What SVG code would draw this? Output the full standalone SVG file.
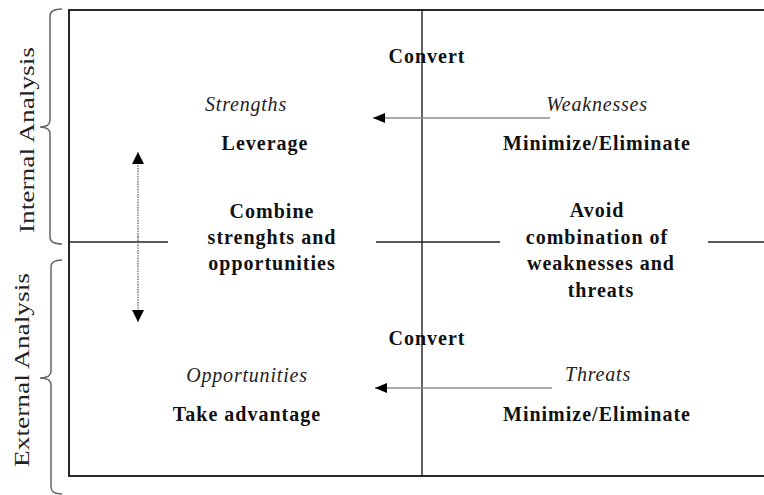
<svg xmlns="http://www.w3.org/2000/svg" width="764" height="495" viewBox="0 0 764 495">
  <style>
    .frame { fill: none; stroke: #111; stroke-width: 1.8; }
    .axis { fill: none; stroke: #222; stroke-width: 1.4; }
    .brace { fill: none; stroke: #666; stroke-width: 1.5; }
    .flow { fill: none; stroke: #8c8c8c; stroke-width: 1.6; }
    .dots { fill: none; stroke: #777; stroke-width: 1.6; stroke-dasharray: 1.4 1.2; }
    .bold { font-family: "Liberation Serif", "Times New Roman", serif; font-weight: bold; font-size: 20px; letter-spacing: 1px; fill: #111; text-anchor: middle; }
    .ital { font-family: "Liberation Serif", "Times New Roman", serif; font-style: italic; font-size: 20px; letter-spacing: 0.8px; fill: #222; text-anchor: middle; }
    .side { font-family: "Liberation Serif", "Times New Roman", serif; font-size: 22px; fill: #222; text-anchor: middle; }
  </style>
  <defs>
    <marker id="head" viewBox="0 0 12 10" refX="12" refY="5" markerWidth="12" markerHeight="10" markerUnits="userSpaceOnUse" orient="auto">
      <path d="M0,0 L12,5 L0,10 z" fill="#000"/>
    </marker>
    <marker id="headTall" viewBox="0 0 12 12" refX="12" refY="6" markerWidth="12" markerHeight="12" markerUnits="userSpaceOnUse" orient="auto">
      <path d="M0,0 L12,6 L0,12 z" fill="#000"/>
    </marker>
  </defs>

  <rect width="764" height="495" fill="#fff"/>

  <!-- matrix frame and quadrant axes -->
  <g id="frame">
    <rect class="frame" x="69" y="10" width="720" height="466"/>
    <line class="axis" x1="422" y1="10" x2="422" y2="476"/>
    <line class="axis" x1="69" y1="242" x2="168" y2="242"/>
    <line class="axis" x1="376" y1="242" x2="500" y2="242"/>
    <line class="axis" x1="708" y1="242" x2="764" y2="242"/>
  </g>

  <!-- side braces with their labels -->
  <g id="internal-analysis">
    <path class="brace" d="M62,9 Q50,9 50,16 L50,120 Q50,127 40,127 Q50,127 50,134 L50,237 Q50,244 62,244"/>
    <text class="side" transform="translate(33.5,140) rotate(-90)" textLength="186" lengthAdjust="spacingAndGlyphs">Internal Analysis</text>
  </g>
  <g id="external-analysis">
    <path class="brace" d="M62,260 Q51,260 51,267 L51,371 Q51,378 40,378 Q51,378 51,385 L51,487 Q51,494 62,494"/>
    <text class="side" transform="translate(29,370) rotate(-90)" textLength="194" lengthAdjust="spacingAndGlyphs">External Analysis</text>
  </g>

  <!-- connectors -->
  <g id="connectors">
    <line class="flow" x1="550" y1="118" x2="373" y2="118" marker-end="url(#head)"/>
    <line class="flow" x1="552" y1="388" x2="375" y2="388" marker-end="url(#head)"/>
    <line class="dots" x1="138" y1="237" x2="138" y2="152" marker-end="url(#headTall)"/>
    <line class="dots" x1="138" y1="237" x2="138" y2="322" marker-end="url(#headTall)"/>
  </g>

  <!-- quadrant nodes -->
  <g id="convert-top">
    <text class="bold" x="427" y="63">Convert</text>
  </g>
  <g id="strengths">
    <text class="ital" x="246" y="111">Strengths</text>
    <text class="bold" x="265" y="150">Leverage</text>
  </g>
  <g id="weaknesses">
    <text class="ital" x="597" y="111">Weaknesses</text>
    <text class="bold" x="597" y="150">Minimize/Eliminate</text>
  </g>
  <g id="combine">
    <text class="bold" x="272" y="218">Combine</text>
    <text class="bold" x="272" y="244">strenghts and</text>
    <text class="bold" x="272" y="270">opportunities</text>
  </g>
  <g id="avoid">
    <text class="bold" x="597" y="217">Avoid</text>
    <text class="bold" x="597" y="243.5">combination of</text>
    <text class="bold" x="601" y="270">weaknesses and</text>
    <text class="bold" x="601" y="297">threats</text>
  </g>
  <g id="convert-bottom">
    <text class="bold" x="427" y="345">Convert</text>
  </g>
  <g id="opportunities">
    <text class="ital" x="247" y="382">Opportunities</text>
    <text class="bold" x="247" y="421">Take advantage</text>
  </g>
  <g id="threats">
    <text class="ital" x="598" y="381">Threats</text>
    <text class="bold" x="597" y="421">Minimize/Eliminate</text>
  </g>
</svg>
